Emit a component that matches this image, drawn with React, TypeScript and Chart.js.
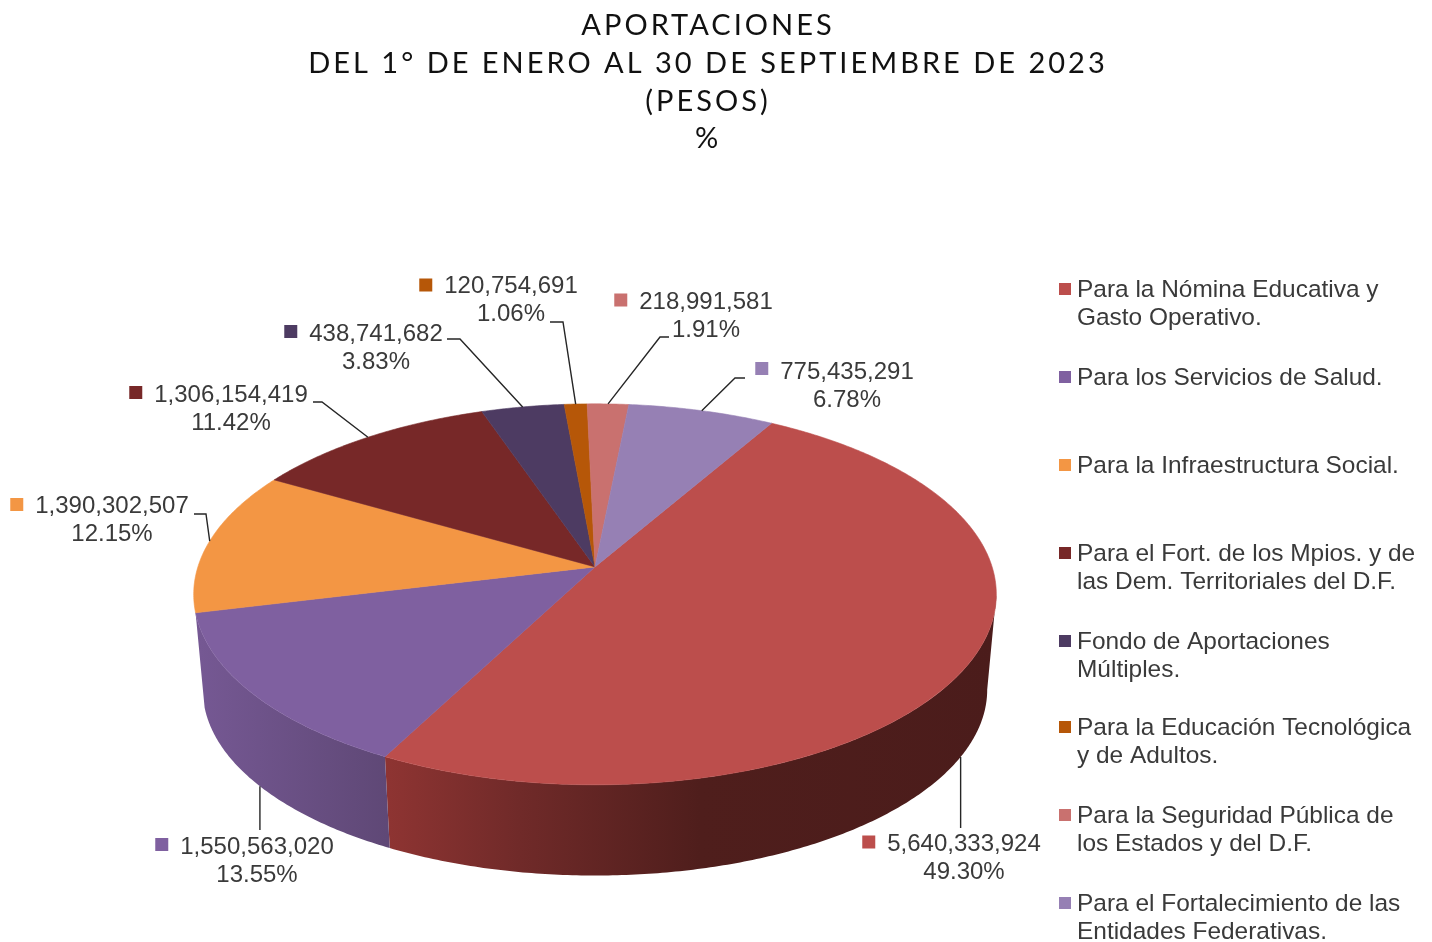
import React, { useEffect, useRef } from "react";
import { Chart, registerables } from "chart.js";

Chart.register(...registerables);

// ---- data ----
const titleLines = ["APORTACIONES", "DEL 1° DE ENERO AL 30 DE SEPTIEMBRE DE 2023", "(PESOS)", "%"];
const categories = [
  ["Para la Nómina Educativa y", "Gasto Operativo."],
  ["Para los Servicios de Salud."],
  ["Para la Infraestructura Social."],
  ["Para el Fort. de los Mpios. y de", "las Dem. Territoriales del D.F."],
  ["Fondo de Aportaciones", "Múltiples."],
  ["Para la Educación Tecnológica", "y de Adultos."],
  ["Para la Seguridad Pública de", "los Estados y del D.F."],
  ["Para el Fortalecimiento de las", "Entidades Federativas."],
];
const amounts = [5640333924, 1550563020, 1390302507, 1306154419, 438741682, 120754691, 218991581, 775435291];
const percentLabels = ["49.30%", "13.55%", "12.15%", "11.42%", "3.83%", "1.06%", "1.91%", "6.78%"];
const colors = ["#BC4E4C", "#7F60A0", "#F39644", "#772828", "#4D3B62", "#B65708", "#C9716F", "#9680B4"];

// ---- layout and style ----
const WIDTH = 1432;
const HEIGHT = 942;
const ROTATION = 30;
const PERSPECTIVE = 0.144;
const TOP_RX = 1.0587;
const TOP_RY = 0.4973;
const BOTTOM_RX = 1.0347;
const BOTTOM_RY = 0.4853;
const BOTTOM_DROP = 96;
const TITLE_SHIFT = 113;
const FRONT_LIMIT_START = Math.asin(PERSPECTIVE);
const FRONT_LIMIT_END = (172 * Math.PI) / 180;
const sideStops: Record<number, [number, string][]> = {
  0: [[387, "#8E3432"], [520, "#702A29"], [700, "#4F1E1C"], [1000, "#4B1C1B"]],
  1: [[200, "#755893"], [387, "#5F4876"]],
};
const labelFont = "24px 'Liberation Sans'";
const legendFont = "24.45px 'Liberation Sans'";
const labelColor = "#3A3A3A";
// label placement: [centre x of text, y of first line, y of its colour key]
const labelPlaces = [
  [964, 844, 842], [257, 847, 844.5], [112, 506, 504.5], [231, 395, 392.5],
  [376, 334, 331.5], [511, 286, 285], [706, 302, 300], [847, 372, 368.5],
];
// leader: does it leave from the lower rim, and the remaining points of its polyline
const leaderFromBottom = [true, true, false, false, false, false, false, false];
const leaderRest: (number | null)[][][] = [
  [[null, 828]],
  [[null, 830]],
  [[206, 514], [194, 514]],
  [[322, 402], [313, 402]],
  [[460, 339], [447, 339]],
  [[563, 322], [550, 322]],
  [[660, 337], [669, 337]],
  [[735, 378], [745, 378]],
];
const legendX = 1077;
const legendY = [288, 376, 464, 552, 640, 726, 814, 902];

function project(arc: any, a: number, bottom: boolean) {
  const c = Math.cos(a);
  const s = Math.sin(a);
  const w = 1 - PERSPECTIVE * s;
  const r = arc.outerRadius;
  return {
    x: arc.x + (r * (bottom ? BOTTOM_RX : TOP_RX) * c) / w,
    y: arc.y + (bottom ? BOTTOM_DROP : 0) + (r * (bottom ? BOTTOM_RY : TOP_RY) * s) / w,
  };
}

function rimPoints(arc: any, a0: number, a1: number, bottom: boolean) {
  const n = Math.max(2, Math.ceil(Math.abs(a1 - a0) / 0.01));
  const out = [];
  for (let i = 0; i <= n; i++) out.push(project(arc, a0 + ((a1 - a0) * i) / n, bottom));
  return out;
}

const pie3d = {
  id: "pie3d",
  afterLayout(chart: any) {
    chart.titleBlock.left += TITLE_SHIFT;
    chart.titleBlock.right += TITLE_SHIFT;
  },
  beforeDraw(chart: any) {
    chart.ctx.letterSpacing = "3px";
  },
  beforeDatasetsDraw(chart: any) {
    const ctx = chart.ctx;
    ctx.letterSpacing = "0px";
    const arcs = chart.getDatasetMeta(0).data;

    // front wall
    arcs.forEach((arc: any, i: number) => {
      const stops = sideStops[i];
      if (!stops) return;
      const a0 = Math.max(arc.startAngle, FRONT_LIMIT_START);
      const a1 = Math.min(arc.endAngle, FRONT_LIMIT_END);
      if (a1 <= a0) return;
      const x0 = stops[0][0];
      const x1 = stops[stops.length - 1][0];
      const g = ctx.createLinearGradient(x0, 0, x1, 0);
      stops.forEach(([x, col]) => g.addColorStop((x - x0) / (x1 - x0), col));
      const top = rimPoints(arc, a0, a1, false);
      const low = rimPoints(arc, a1, a0, true);
      ctx.beginPath();
      [...top, ...low].forEach((p, k) => (k ? ctx.lineTo(p.x, p.y) : ctx.moveTo(p.x, p.y)));
      ctx.closePath();
      ctx.fillStyle = g;
      ctx.fill();
    });

    // top face
    arcs.forEach((arc: any, i: number) => {
      ctx.beginPath();
      ctx.moveTo(arc.x, arc.y);
      rimPoints(arc, arc.startAngle, arc.endAngle, false).forEach((p) => ctx.lineTo(p.x, p.y));
      ctx.closePath();
      ctx.fillStyle = colors[i];
      ctx.strokeStyle = colors[i];
      ctx.lineWidth = 0.6;
      ctx.fill();
      ctx.stroke();
    });

    // leaders and data labels
    ctx.font = labelFont;
    ctx.textBaseline = "middle";
    arcs.forEach((arc: any, i: number) => {
      const mid = (arc.startAngle + arc.endAngle) / 2;
      const start = project(arc, mid, leaderFromBottom[i]);
      ctx.beginPath();
      ctx.moveTo(start.x, start.y);
      leaderRest[i].forEach(([x, y]) => ctx.lineTo(x ?? start.x, y as number));
      ctx.strokeStyle = "#262626";
      ctx.lineWidth = 1.4;
      ctx.stroke();

      const [cx, y, keyY] = labelPlaces[i];
      const first = amounts[i].toLocaleString("en-US");
      const w = ctx.measureText(first).width;
      ctx.fillStyle = colors[i];
      ctx.fillRect(cx - w / 2 - 25, keyY - 6.5, 13, 13);
      ctx.fillStyle = labelColor;
      ctx.textAlign = "center";
      ctx.fillText(first, cx, y);
      ctx.fillText(percentLabels[i], cx, y + 28);
    });

    // legend
    ctx.font = legendFont;
    ctx.textAlign = "left";
    categories.forEach((lines, i) => {
      ctx.fillStyle = colors[i];
      ctx.fillRect(legendX - 18, legendY[i] - 5, 12, 12);
      ctx.fillStyle = labelColor;
      lines.forEach((t, k) => ctx.fillText(t, legendX, legendY[i] + 2 + k * 28));
    });
    return false;
  },
};

export default function App() {
  const ref = useRef<HTMLCanvasElement>(null);
  useEffect(() => {
    document.body.style.margin = "0";
    const chart = new Chart(ref.current as HTMLCanvasElement, {
      type: "pie",
      data: {
        labels: categories.map((l) => l.join(" ")),
        datasets: [{ data: amounts, backgroundColor: colors, borderWidth: 0 }],
      },
      options: {
        responsive: false,
        animation: false,
        rotation: ROTATION,
        layout: { padding: { right: 242 } },
        plugins: {
          legend: { display: false },
          tooltip: { enabled: false },
          title: {
            display: true,
            text: titleLines,
            color: "#111111",
            font: { family: "Lato", size: 29, weight: "normal", lineHeight: 1.3 },
            padding: { top: 7, bottom: 34 },
          },
        },
      },
      plugins: [pie3d],
    } as any);
    return () => chart.destroy();
  }, []);
  return <canvas ref={ref} width={WIDTH} height={HEIGHT} style={{ display: "block", background: "#fff" }} />;
}
